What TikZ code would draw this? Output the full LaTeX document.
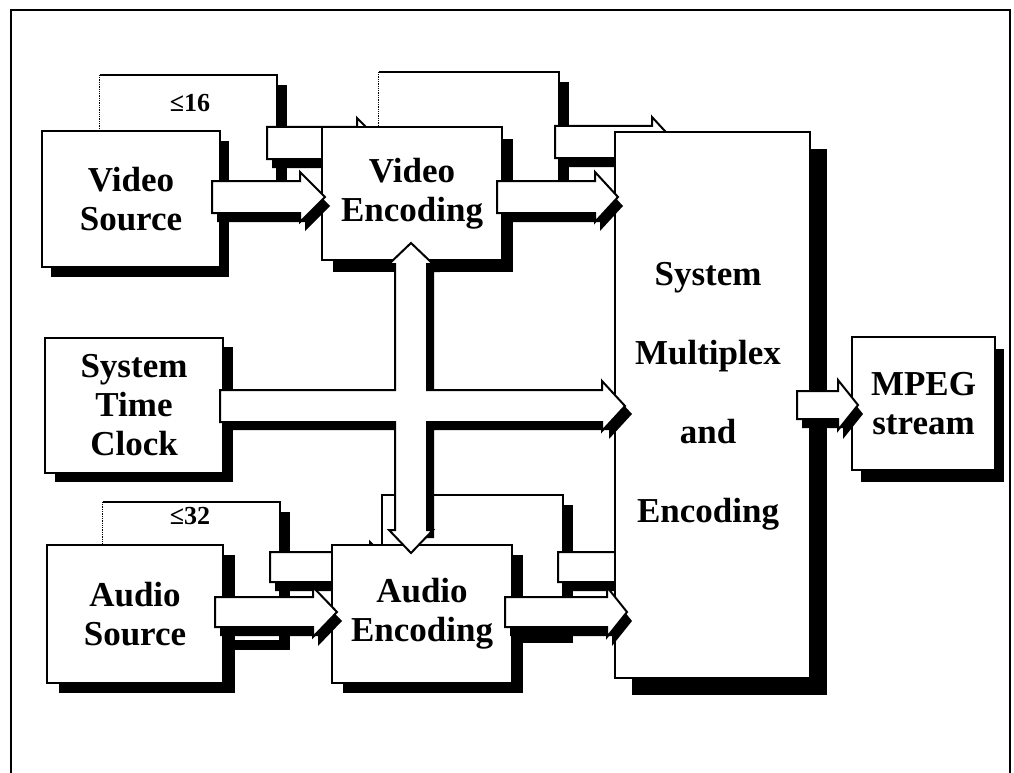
\documentclass[tikz,border=0pt]{standalone}
\usepackage{fontspec}
\setmainfont{Liberation Serif}
\newcommand{\blockarr}[5]{%
  \path[fill=black, shift={(5,9)}] (#1,#4-#5) -- (#2,#4-#5) -- (#2,#4-25) -- (#3,#4) -- (#2,#4+25) -- (#2,#4+#5) -- (#1,#4+#5) -- cycle;
  \path[arrowbody] (#1,#4-#5) -- (#2,#4-#5) -- (#2,#4-25) -- (#3,#4) -- (#2,#4+25) -- (#2,#4+#5) -- (#1,#4+#5) -- cycle;}
\newcommand{\crossoutline}{(220,390) -- (395,390) -- (395,264) -- (389,264) -- (411,243) -- (433,264) -- (427,264) -- (427,390) -- (602,390) -- (602,381) -- (625,406) -- (602,431) -- (602,422) -- (427,422) -- (427,530) -- (433,530) -- (411,553) -- (389,530) -- (395,530) -- (395,422) -- (220,422) -- cycle}
\newcommand{\crossshadow}{(220,390) -- (395,390) -- (395,264) -- (389,264) -- (411,243) -- (433,264) -- (427,264) -- (427,390) -- (602,390) -- (602,381) -- (625,406) -- (602,431) -- (602,422) -- (427,422) -- (427,530) -- (395,530) -- (395,422) -- (220,422) -- cycle}
\tikzset{
  box/.style 2 args={draw, line width=2pt, fill=white, inner sep=0pt, align=center,
    font=\fontsize{35}{39}\selectfont\bfseries,
    preaction={fill=black, transform canvas={xshift=#1pt, yshift=-#2pt}}},
  backbox/.style={draw=none, fill=white, inner sep=0pt,
    preaction={fill=black, transform canvas={xshift=10pt, yshift=-10pt}}},
  bkedge/.style={line width=1.6pt},
  bkdots/.style={line width=1.3pt, densely dotted},
  arrowbody/.style={draw, line width=2pt, fill=white, line join=miter},
  lbl/.style={font=\fontsize{26}{30}\selectfont\bfseries, inner sep=0pt},
  bigtext/.style={align=center, inner sep=0pt, font=\fontsize{35}{79}\selectfont\bfseries},
}
\begin{document}
\begin{tikzpicture}[x=1pt,y=-1pt]
\useasboundingbox (0,0) rectangle (1014,773);
\fill[white] (0,0) rectangle (1014,773);
% outer frame
\draw[line width=2.5pt] (11,773) -- (11,10) -- (1010,10) -- (1010,773);

% back layer boxes
\node[backbox, minimum width=177pt, minimum height=137pt] (vsb) at (188.5,143.5) {};
\draw[bkedge] (vsb.south east) -- (vsb.north east) -- (vsb.north west);
\draw[bkdots] (vsb.north west) -- (vsb.south west);
\node[lbl] (l16) at (190,103) {≤16};

\node[backbox, minimum width=180pt, minimum height=133pt] (veb) at (469,138.5) {};
\draw[bkedge] (veb.south east) -- (veb.north east) -- (veb.north west);
\draw[bkdots] (veb.north west) -- (veb.south west);

\node[backbox, minimum width=177pt, minimum height=138pt] (asb) at (191.5,571) {};
\draw[bkedge] (asb.south east) -- (asb.north east) -- (asb.north west);
\draw[bkdots] (asb.north west) -- (asb.south west);
\node[lbl] (l32) at (190,516) {≤32};

\node[backbox, minimum width=181pt, minimum height=138pt] (aeb) at (472.5,564) {};
\draw[bkedge] (aeb.south east) -- (aeb.north east) -- (aeb.north west) -- (aeb.south west);

% back layer arrows
\blockarr{267}{357}{382}{143}{16}
\blockarr{555}{652}{675}{142}{16}
\blockarr{270}{370}{394}{567}{15}
\blockarr{558}{663}{682}{567}{15}

% front boxes
\node[box={9}{10}, minimum width=178pt, minimum height=136pt] (vs) at (131,199) {Video\\Source};
\node[box={11}{12}, minimum width=180pt, minimum height=133pt] (ve) at (412,193.5) {Video\\Encoding};
\node[box={10}{9}, minimum width=178pt, minimum height=135pt] (stc) at (134,405.5) {System\\Time\\Clock};
\node[box={12}{10}, minimum width=176pt, minimum height=138pt] (as) at (135,614) {Audio\\Source};
\node[box={11}{10}, minimum width=180pt, minimum height=138pt] (ae) at (422,614) {Audio\\Encoding};
\node[box={17}{17}, minimum width=195pt, minimum height=546pt] (mux) at (712.5,405) {};
\node[bigtext] (muxtext) at (708,396) {System\\Multiplex\\and\\Encoding};
\node[box={9}{12}, minimum width=143pt, minimum height=133pt] (mpeg) at (923.5,403.5) {MPEG\\stream};

% clock arrow crossing the two-way arrow between the encoders
\path[fill=black, shift={(7,8)}] \crossshadow;
\path[arrowbody] \crossoutline;

% front arrows
\blockarr{212}{300}{325}{197}{16}
\blockarr{497}{595}{618}{197}{16}
\blockarr{215}{313}{337}{612}{15}
\blockarr{505}{607}{627}{612}{15}
\blockarr{797}{838}{858}{405}{14}
\end{tikzpicture}
\end{document}
